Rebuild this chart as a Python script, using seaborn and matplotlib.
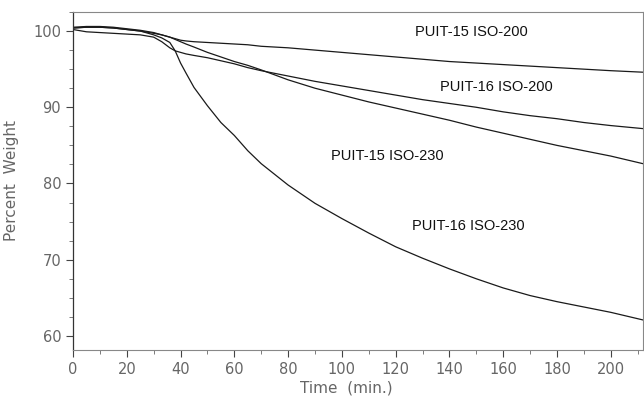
import numpy as np
import pandas as pd
import matplotlib
matplotlib.use("Agg")
import matplotlib.pyplot as plt
import seaborn as sns
from matplotlib.ticker import MultipleLocator

# time grid (min.)
time_min = [0, 5, 10, 15, 20, 25, 30, 33, 36, 38, 40, 42, 45, 50, 55, 60, 65, 70,
            80, 90, 100, 110, 120, 130, 140, 150, 160, 170, 180, 190, 200, 212]

# percent weight
puit15_iso200 = [100.4, 100.5, 100.5, 100.4, 100.2, 100.0, 99.7, 99.5, 99.2, 99.0, 98.8, 98.7,
                 98.6, 98.5, 98.4, 98.3, 98.2, 98.0, 97.8, 97.5, 97.2, 96.9, 96.6, 96.3,
                 96.0, 95.8, 95.6, 95.4, 95.2, 95.0, 94.8, 94.6]
puit16_iso200 = [100.2, 99.9, 99.8, 99.7, 99.6, 99.5, 99.2, 98.6, 97.8, 97.4, 97.2, 97.0,
                 96.8, 96.5, 96.1, 95.7, 95.2, 94.8, 94.1, 93.4, 92.8, 92.2, 91.6, 91.0,
                 90.5, 90.0, 89.4, 88.9, 88.5, 88.0, 87.6, 87.2]
puit15_iso230 = [100.5, 100.6, 100.6, 100.5, 100.3, 100.1, 99.8, 99.5, 99.2, 98.9, 98.6, 98.3,
                 97.9, 97.2, 96.6, 96.0, 95.5, 94.9, 93.6, 92.5, 91.6, 90.7, 89.9, 89.1,
                 88.3, 87.4, 86.6, 85.8, 85.0, 84.3, 83.6, 82.6]
puit16_iso230 = [100.4, 100.5, 100.5, 100.4, 100.2, 100.0, 99.5, 99.1, 98.5, 97.4, 95.8, 94.5,
                 92.6, 90.2, 88.0, 86.3, 84.3, 82.6, 79.8, 77.4, 75.4, 73.5, 71.7, 70.2,
                 68.8, 67.5, 66.3, 65.3, 64.5, 63.8, 63.1, 62.1]

series_names = ["PUIT-15 ISO-200", "PUIT-16 ISO-200", "PUIT-15 ISO-230", "PUIT-16 ISO-230"]
label_x = [148, 157.5, 117, 147]
label_y = [99.9, 92.65, 83.6, 74.4]

frames = []
for name, vals in zip(series_names, [puit15_iso200, puit16_iso200, puit15_iso230, puit16_iso230]):
    frames.append(pd.DataFrame({"time": time_min, "weight": vals, "sample": name}))
df = pd.concat(frames, ignore_index=True)

sns.set_style("ticks")
plt.rcParams["font.family"] = ["DejaVu Sans"]

fig = plt.figure(figsize=(6.44, 4.09), dpi=100)
ax = fig.add_axes([0.1134, 0.1443, 0.885, 0.8264])

sns.lineplot(data=df, x="time", y="weight", hue="sample",
             palette=["#1a1a1a"] * 4, linewidth=0.9, legend=False, ax=ax)

# curve labels sit inside the plot instead of a legend
for name, lx, ly in zip(series_names, label_x, label_y):
    ax.text(lx, ly, name, ha="center", va="center", fontsize=10.5,
            family="Liberation Sans", color="#111111")

ax.set_xlim(0, 212)
ax.set_ylim(58.16, 102.5)
ax.xaxis.set_major_locator(MultipleLocator(20))
ax.xaxis.set_minor_locator(MultipleLocator(10))
ax.yaxis.set_major_locator(MultipleLocator(10))
ax.yaxis.set_minor_locator(MultipleLocator(2.5))
ax.tick_params(which="major", length=5, width=0.8, color="#444444",
               labelsize=10.5, labelcolor="#666666")
ax.tick_params(which="minor", length=3, width=0.6, color="#666666")

for side in ["top", "bottom", "right"]:
    ax.spines[side].set_color("#888888")
    ax.spines[side].set_linewidth(0.8)
ax.spines["top"].set_linestyle((0, (1, 1)))
ax.spines["left"].set_color("#333333")
ax.spines["left"].set_linewidth(0.9)

ax.set_xlabel("Time  (min.)", fontsize=11, color="#666666")
ax.set_ylabel("Percent  Weight", fontsize=11, color="#666666")
ax.xaxis.set_label_coords(0.48, -0.09)
ax.yaxis.set_label_coords(-0.095, 0.5)

fig.savefig("out.png", dpi=100)
